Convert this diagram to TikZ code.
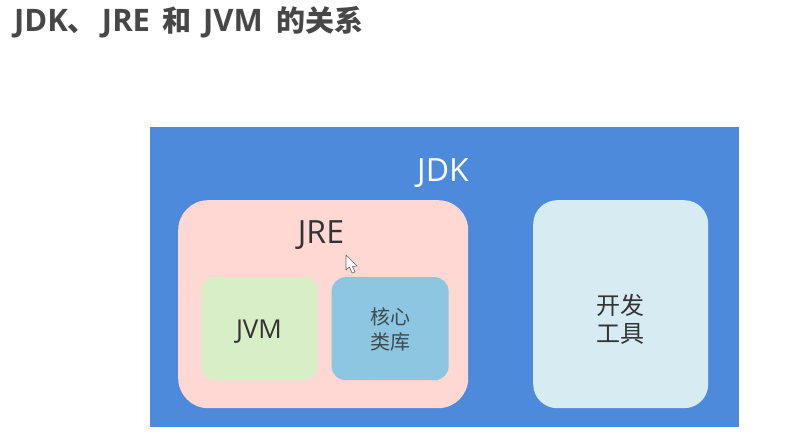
\documentclass[tikz,border=0pt]{standalone}
\usepackage{fontspec}
\setmainfont{Open Sans}
\newfontfamily\cjk{Noto Sans CJK SC}
\usetikzlibrary{positioning}

\definecolor{jdkblue}{HTML}{4E8ADC}
\definecolor{jrepink}{HTML}{FFD7D3}
\definecolor{jvmgreen}{HTML}{D8EEC6}
\definecolor{libblue}{HTML}{8CC6E0}
\definecolor{toolblue}{HTML}{D7EBF3}
\definecolor{inktext}{HTML}{333333}

\newcommand{\cjkbig}[1]{{\cjk\fontsize{29}{32}\selectfont #1}}

\tikzset{
    box/.style={rounded corners=#1, anchor=north west, inner sep=0pt, align=center, text=inktext},
    box/.default=14pt,
    tag/.style={inner sep=0pt, text=inktext}
}

\begin{document}
\begin{tikzpicture}[x=1pt, y=-1pt]
        \useasboundingbox (0,0) rectangle (786,438);

        \node[anchor=west, inner sep=0pt, text=inktext!90, font=\bfseries\fontsize{31}{34}\selectfont] (title) at (14,22)
            {JDK\cjkbig{、}\hspace{5pt}JRE\hspace{4pt} \cjkbig{和}\hspace{4pt} JVM\hspace{6pt} \cjkbig{的关系}};

        \node[box=0pt, fill=jdkblue, minimum width=589pt, minimum height=300pt] (jdk) at (150,127) {};
        \node[box=30pt, fill=jrepink, minimum width=290pt, minimum height=208pt] (jre) at (178,200) {};
        \node[box=14pt, fill=jvmgreen, minimum width=117pt, minimum height=103pt] (jvm) at (201,277) {};
        \node[box=14pt, fill=libblue, minimum width=117pt, minimum height=103pt] (lib) [right=13pt of jvm] {};
        \node[box=24pt, fill=toolblue, minimum width=175pt, minimum height=208pt] (tool) at (533,200) {};

        \node[tag, text=white, font=\fontsize{32}{36}\selectfont] (jdklabel) at (443,173) {JDK};
        \node[tag, font=\fontsize{32}{36}\selectfont] (jrelabel) at (321,235) {JRE};
        \node[tag, font=\fontsize{26}{30}\selectfont] (jvmlabel) at (259,332) {JVM};
        \node[tag, align=center, text=inktext!85!libblue, font=\cjk\fontsize{20}{25}\selectfont] (liblabel) at (390,329) {核心\\类库};
        \node[tag, align=center, font=\cjk\fontsize{24}{28}\selectfont] (toollabel) at (620,319) {开发\\工具};

        % mouse pointer
        \draw[fill=white, draw=gray!80!black, line width=.6pt, line join=round]
            (346,255) -- (346,270) -- (349.5,267) -- (352,273) -- (355,272) -- (352.5,266.5) -- (357,266) -- cycle;
    \end{tikzpicture}
\end{document}
